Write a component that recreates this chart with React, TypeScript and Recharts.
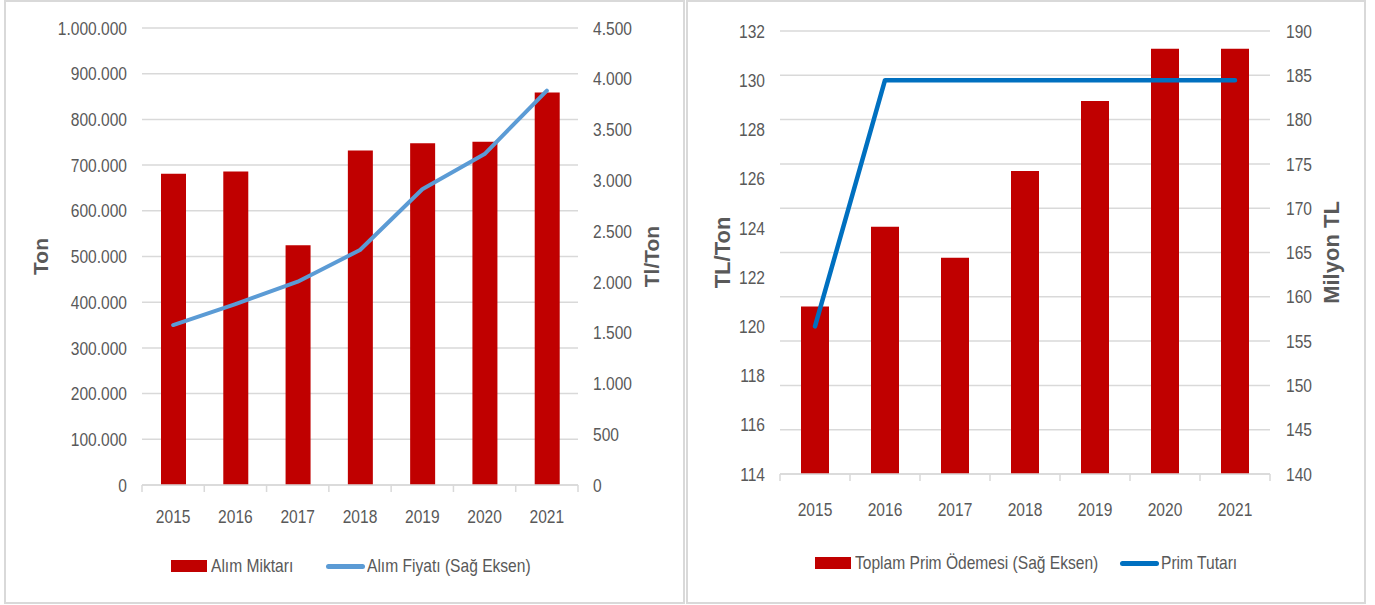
import { Bar, CartesianGrid, ComposedChart, Legend, Line, XAxis, YAxis } from "recharts";

const years = ["2015", "2016", "2017", "2018", "2019", "2020", "2021"];

// sol grafik
const alimMiktari = [681000, 686000, 524500, 732000, 748000, 751000, 859000];
const alimFiyati = [1575, 1782, 2002, 2314, 2912, 3259, 3883];
const tonTicks = [0, 100000, 200000, 300000, 400000, 500000, 600000, 700000, 800000, 900000, 1000000];
const fiyatTicks = [0, 500, 1000, 1500, 2000, 2500, 3000, 3500, 4000, 4500];

// sag grafik
const primOdemesi = [158.9, 167.9, 164.4, 174.2, 182.1, 188.0, 188.0];
const primTutari = [120, 130, 130, 130, 130, 130, 130];
const tlTonTicks = [114, 116, 118, 120, 122, 124, 126, 128, 130, 132];
const milyonTicks = [140, 145, 150, 155, 160, 165, 170, 175, 180, 185, 190];

const FONT = '"Liberation Sans", Arial, sans-serif';
const SX = 0.82; // dar yazi icin yatay sikistirma
const GRAY = "#595959";
const GRID = "#d9d9d9";
const RED = "#C00000";

const leftData = years.map((y, i) => ({ year: y, miktar: alimMiktari[i], fiyat: alimFiyati[i] }));
const rightData = years.map((y, i) => ({ year: y, odeme: primOdemesi[i], tutar: primTutari[i] }));

const dotted = (v: number) => v.toString().replace(/\B(?=(\d{3})+(?!\d))/g, ".");

const NarrowText = ({ x, y, anchor, dy, children }: any) => (
  <text
    transform={`translate(${x},${y}) scale(${SX},1)`}
    dy={dy}
    textAnchor={anchor}
    fill={GRAY}
    fontSize={19}
    fontFamily={FONT}>
    {children}
  </text>
);

const makeYTick = (anchor: string, fmt: (v: number) => string) => (props: any) =>
  (
    <NarrowText x={props.x} y={props.y} dy='0.35em' anchor={anchor}>
      {fmt(props.payload.value)}
    </NarrowText>
  );

const makeYearTick = (dy: number) => (props: any) => {
  const { x, y, payload, index, visibleTicksCount, width } = props;
  const half = payload.offset || width / (2 * visibleTicksCount);
  return (
    <g>
      <line x1={x - half} x2={x - half} y1={y} y2={y + 7} stroke={GRID} strokeWidth={1.5} />
      {index === visibleTicksCount - 1 && (
        <line x1={x + half} x2={x + half} y1={y} y2={y + 7} stroke={GRID} strokeWidth={1.5} />
      )}
      <NarrowText x={x} y={y + dy} anchor='middle'>
        {payload.value}
      </NarrowText>
    </g>
  );
};

const makeLegend = (secondLeft: number) => (props: any) => {
  const items = [...(props.payload || [])].sort(
    (a: any, b: any) => (a.type === "rect" ? 0 : 1) - (b.type === "rect" ? 0 : 1)
  );
  return (
    <div style={{ position: "relative", height: 22, fontFamily: FONT, fontSize: 19, color: GRAY, whiteSpace: "nowrap" }}>
      {items.map((it: any, i: number) => (
        <div
          key={i}
          style={{ position: "absolute", left: i === 0 ? 0 : secondLeft, top: 0, height: 22, display: "flex", alignItems: "center" }}>
          {it.type === "rect" ? (
            <div style={{ width: 36, height: 12, background: it.color, marginRight: 4 }} />
          ) : (
            <div style={{ width: 39, height: 5, borderRadius: 3, background: it.color, marginRight: 2 }} />
          )}
          <span style={{ display: "inline-block", transform: `scaleX(${SX})`, transformOrigin: "left center" }}>{it.value}</span>
        </div>
      ))}
    </div>
  );
};

const titleStyle = (size: number) => ({
  textAnchor: "middle",
  fill: GRAY,
  fontSize: size,
  fontWeight: 700,
  fontFamily: FONT,
});

function App() {
  return (
    <div style={{ position: "absolute", left: 0, top: 0, width: 1375, height: 605, background: "#fff" }}>
      <div style={{ position: "absolute", left: 4, top: 0, width: 681, height: 604, border: `2px solid ${GRID}`, boxSizing: "border-box" }} />
      <div style={{ position: "absolute", left: 686, top: 0, width: 680, height: 604, border: `2px solid ${GRID}`, boxSizing: "border-box" }} />

      <div style={{ position: "absolute", left: 0, top: 0 }}>
        <ComposedChart width={680} height={600} data={leftData} margin={{ top: 28, right: 0, left: 0, bottom: 65 }}>
          <CartesianGrid yAxisId='left' vertical={false} stroke={GRID} strokeWidth={1.5} />
          <XAxis
            dataKey='year'
            height={50}
            tickLine={false}
            tickSize={0}
            tickMargin={0}
            stroke={GRID}
            strokeWidth={1.5}
            tick={makeYearTick(38)}
            interval={0}
          />
          <YAxis
            yAxisId='left'
            width={142}
            domain={[0, 1000000]}
            ticks={tonTicks}
            axisLine={false}
            tickLine={false}
            tickSize={0}
            tickMargin={15}
            tick={makeYTick("end", dotted)}
            label={{ value: "Ton", angle: -90, position: "insideLeft", offset: 41, style: titleStyle(21) }}
          />
          <YAxis
            yAxisId='right'
            orientation='right'
            width={102}
            domain={[0, 4500]}
            ticks={fiyatTicks}
            axisLine={false}
            tickLine={false}
            tickSize={0}
            tickMargin={15}
            tick={makeYTick("start", dotted)}
            label={{ value: "Tl/Ton", angle: -90, position: "insideRight", offset: 28, style: titleStyle(21) }}
          />
          <Bar yAxisId='left' dataKey='miktar' name='Alım Miktarı' fill={RED} barSize={25} isAnimationActive={false} />
          <Line
            yAxisId='right'
            dataKey='fiyat'
            name='Alım Fiyatı (Sağ Eksen)'
            stroke='#5B9BD5'
            strokeWidth={4}
            strokeLinecap='round'
            strokeLinejoin='round'
            dot={false}
            activeDot={false}
            type='linear'
            isAnimationActive={false}
          />
          <Legend
            layout='horizontal'
            verticalAlign='middle'
            align='center'
            content={makeLegend(155)}
            wrapperStyle={{ left: 171, top: 555, width: 400 }}
          />
        </ComposedChart>
      </div>

      <div style={{ position: "absolute", left: 686, top: 0 }}>
        <ComposedChart width={680} height={600} data={rightData} margin={{ top: 31, right: 0, left: 0, bottom: 76 }}>
          <CartesianGrid yAxisId='right' vertical={false} stroke={GRID} strokeWidth={1.5} />
          <XAxis
            dataKey='year'
            height={50}
            tickLine={false}
            tickSize={0}
            tickMargin={0}
            stroke={GRID}
            strokeWidth={1.5}
            tick={makeYearTick(42)}
            interval={0}
          />
          <YAxis
            yAxisId='left'
            width={94}
            domain={[114, 132]}
            ticks={tlTonTicks}
            axisLine={false}
            tickLine={false}
            tickSize={0}
            tickMargin={15}
            tick={makeYTick("end", String)}
            label={{ value: "TL/Ton", angle: -90, position: "insideLeft", offset: 36, style: titleStyle(22) }}
          />
          <YAxis
            yAxisId='right'
            orientation='right'
            width={96}
            domain={[140, 190]}
            ticks={milyonTicks}
            axisLine={false}
            tickLine={false}
            tickSize={0}
            tickMargin={16}
            tick={makeYTick("start", String)}
            label={{ value: "Milyon TL", angle: -90, position: "insideRight", offset: 35, style: titleStyle(22) }}
          />
          <Bar yAxisId='right' dataKey='odeme' name='Toplam Prim Ödemesi (Sağ Eksen)' fill={RED} barSize={28} isAnimationActive={false} />
          <Line
            yAxisId='left'
            dataKey='tutar'
            name='Prim Tutarı'
            stroke='#0070C0'
            strokeWidth={4.5}
            strokeLinecap='round'
            strokeLinejoin='round'
            dot={false}
            activeDot={false}
            type='linear'
            isAnimationActive={false}
          />
          <Legend
            layout='horizontal'
            verticalAlign='middle'
            align='center'
            content={makeLegend(305)}
            wrapperStyle={{ left: 129, top: 552, width: 460 }}
          />
        </ComposedChart>
      </div>
    </div>
  );
}

export default App;
